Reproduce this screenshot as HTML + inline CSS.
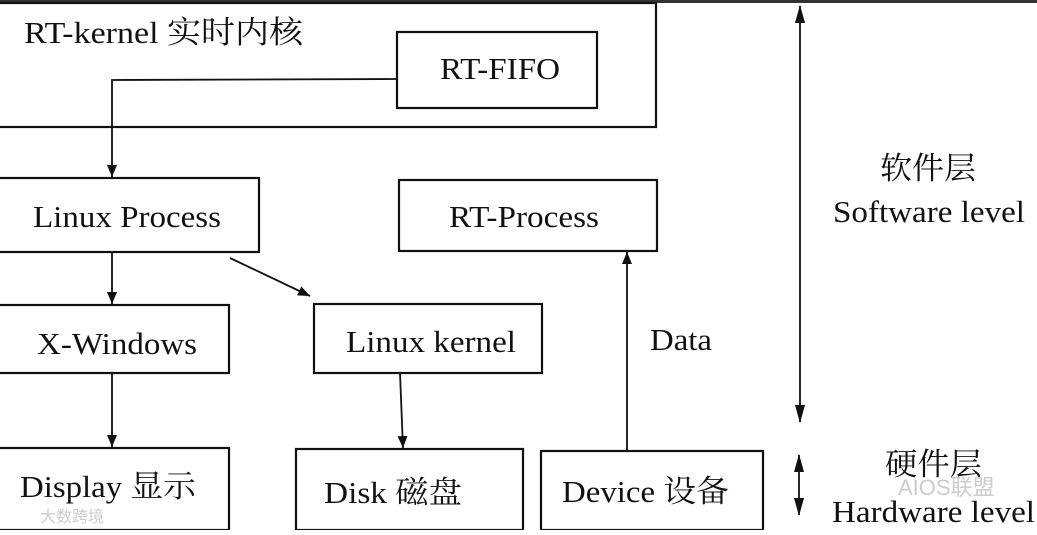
<!DOCTYPE html>
<html><head><meta charset="utf-8"><style>
body{margin:0;width:1037px;height:530px;overflow:hidden;background:#fff}
svg text{font-family:"Liberation Serif","Noto Serif CJK SC",serif;font-size:31px;fill:#111}
</style></head><body>
<svg width="1037" height="530" viewBox="0 0 1037 530">
<defs><marker id="a" markerWidth="12" markerHeight="12" refX="12" refY="6" orient="auto" markerUnits="userSpaceOnUse"><path d="M0,1 L12,6 L0,11 Z" fill="#111"/></marker>
<marker id="b" markerWidth="18" markerHeight="12" refX="17" refY="6" orient="auto" markerUnits="userSpaceOnUse"><path d="M0,1 L18,6 L0,11 Z" fill="#111"/></marker></defs>
<rect x="0" y="0" width="1037" height="3" fill="#333"/>
<g fill="none" stroke="#111" stroke-width="2.2">
<rect x="-5" y="3" width="661" height="124"/>
<rect x="397" y="32" width="200" height="76"/>
<rect x="-5" y="178" width="264" height="74"/>
<rect x="399" y="180" width="258" height="71"/>
<rect x="-5" y="305" width="234" height="68"/>
<rect x="314" y="304" width="228" height="69"/>
<rect x="-5" y="448" width="234" height="82"/>
<rect x="296" y="449" width="227" height="81"/>
<rect x="541" y="451" width="222" height="79"/>
<g stroke-width="1.8">
<polyline points="397,79 112,80 112,177" marker-end="url(#a)"/>
<line x1="112" y1="252" x2="112" y2="304" marker-end="url(#a)"/>
<line x1="112" y1="373" x2="112" y2="447" marker-end="url(#a)"/>
<line x1="230" y1="258" x2="310" y2="296" marker-end="url(#a)"/>
<line x1="400" y1="373" x2="403" y2="448" marker-end="url(#a)"/>
<line x1="627" y1="451" x2="627" y2="252" marker-end="url(#a)"/>
<line x1="800" y1="25" x2="800" y2="6" marker-end="url(#b)"/>
<line x1="800" y1="25" x2="800" y2="422" marker-end="url(#b)"/>
<line x1="799" y1="470" x2="799" y2="455" marker-end="url(#b)"/>
<line x1="799" y1="470" x2="799" y2="515" marker-end="url(#b)"/>
</g></g>
<text x="24" y="43" textLength="279" lengthAdjust="spacingAndGlyphs">RT-kernel  实时内核</text>
<text x="440" y="79" textLength="120" lengthAdjust="spacingAndGlyphs">RT-FIFO</text>
<text x="33" y="227" textLength="188" lengthAdjust="spacingAndGlyphs">Linux Process</text>
<text x="449" y="227" textLength="150" lengthAdjust="spacingAndGlyphs">RT-Process</text>
<text x="37" y="354" textLength="160" lengthAdjust="spacingAndGlyphs">X-Windows</text>
<text x="346" y="352" textLength="170" lengthAdjust="spacingAndGlyphs">Linux kernel</text>
<text x="20" y="497" textLength="176" lengthAdjust="spacingAndGlyphs">Display 显示</text>
<text x="324" y="503" textLength="138" lengthAdjust="spacingAndGlyphs">Disk 磁盘</text>
<text x="562" y="502" textLength="167" lengthAdjust="spacingAndGlyphs">Device 设备</text>
<text x="650" y="350" textLength="62" lengthAdjust="spacingAndGlyphs">Data</text>
<text x="880" y="179" textLength="96" lengthAdjust="spacingAndGlyphs">软件层</text>
<text x="833" y="222" textLength="192" lengthAdjust="spacingAndGlyphs">Software level</text>
<text x="885" y="475" textLength="97" lengthAdjust="spacingAndGlyphs">硬件层</text>
<text x="832" y="522" textLength="203" lengthAdjust="spacingAndGlyphs">Hardware level</text>
<text x="898" y="495" style="font-family:'Liberation Sans','Noto Sans CJK SC',sans-serif;font-size:22px;fill:#ccc">AIOS联盟</text>
<text x="40" y="522" style="font-family:'Liberation Sans','Noto Sans CJK SC',sans-serif;font-size:16px;fill:#ccc">大数跨境</text>
</svg></body></html>
